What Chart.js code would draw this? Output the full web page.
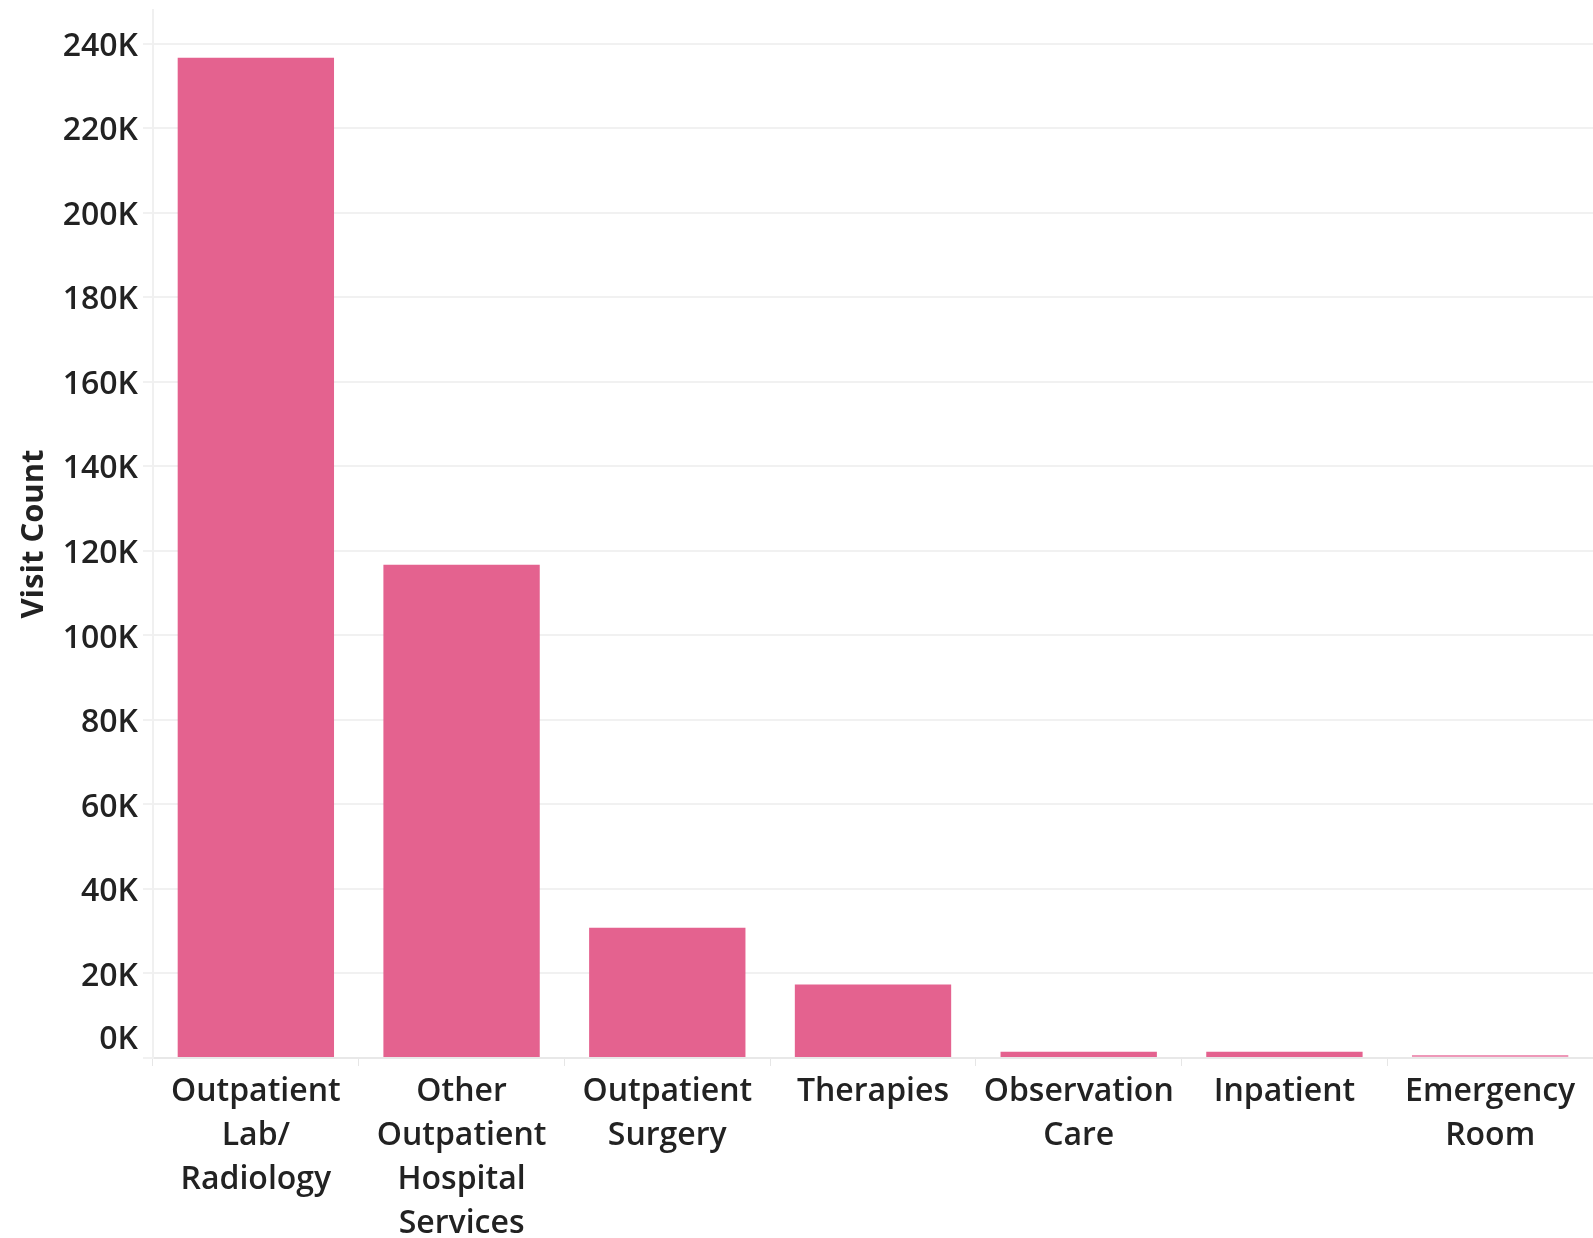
<!DOCTYPE html>
<html>
<head>
<meta charset="utf-8">
<script src="https://cdn.jsdelivr.net/npm/chart.js@4.4.1/dist/chart.umd.min.js"></script>
<style>
    html, body { margin: 0; padding: 0; background: #fff; }
    #wrap { width: 1593px; height: 1238px; position: relative; }
</style>
</head>
<body>
<div id="wrap"><canvas id="visitChart"></canvas></div>
<script>
// Data
const categories = [
    ['Outpatient', 'Lab/', 'Radiology'],
    ['Other', 'Outpatient', 'Hospital', 'Services'],
    ['Outpatient', 'Surgery'],
    ['Therapies'],
    ['Observation', 'Care'],
    ['Inpatient'],
    ['Emergency', 'Room']
];
const visitCounts = [236700, 116700, 30800, 17400, 1500, 1500, 700];
const yTicks = [0, 20000, 40000, 60000, 80000, 100000, 120000, 140000, 160000, 180000, 200000, 220000, 240000];

const barColor = '#e4628f';
const lightBar = '#ee98b8';
const fontFamily = '"Open Sans", "DejaVu Sans", sans-serif';

// Tableau puts the 0K label just above the baseline
const zeroLabelPlugin = {
    id: 'zeroLabel',
    afterDraw(chart) {
        const y = chart.scales.y;
        const ctx = chart.ctx;
        ctx.save();
        ctx.font = '600 32px ' + fontFamily;
        ctx.fillStyle = '#222';
        ctx.textAlign = 'right';
        ctx.textBaseline = 'middle';
        ctx.fillText('0K', y.right - 15, y.getPixelForValue(0) - 18);
        ctx.restore();
    }
};

function initializeChart() {
    const ctx = document.getElementById('visitChart').getContext('2d');
    new Chart(ctx, {
        type: 'bar',
        data: {
            labels: categories,
            datasets: [{
                data: visitCounts,
                backgroundColor: visitCounts.map((v, i) => i === visitCounts.length - 1 ? lightBar : barColor),
                borderWidth: 0,
                categoryPercentage: 0.76,
                barPercentage: 1.0
            }]
        },
        options: {
            responsive: true,
            maintainAspectRatio: false,
            animation: false,
            layout: { padding: { top: 10, right: 0, bottom: -12, left: 4 } },
            plugins: {
                legend: { display: false },
                tooltip: { enabled: false }
            },
            scales: {
                x: {
                    grid: {
                        display: true,
                        drawOnChartArea: false,
                        color: '#e6e6e6',
                        tickLength: 8
                    },
                    border: { color: '#e8e8e8', width: 2 },
                    ticks: {
                        color: '#222',
                        padding: 4,
                        maxRotation: 0,
                        autoSkip: false,
                        font: { family: fontFamily, size: 32, weight: '600', lineHeight: 1.375 }
                    }
                },
                y: {
                    min: 0,
                    max: 248000,
                    afterBuildTicks: (scale) => {
                        scale.ticks = yTicks.map(v => ({ value: v }));
                    },
                    afterFit: (scale) => {
                        scale.width = 149;
                        scale.paddingTop = 0;
                        scale.paddingBottom = 0;
                    },
                    grid: {
                        color: '#f1f1f1',
                        lineWidth: 2,
                        tickLength: 10
                    },
                    border: { color: '#f0f0f0', width: 2 },
                    ticks: {
                        color: '#222',
                        padding: 5,
                        labelOffset: 3,
                        font: { family: fontFamily, size: 32, weight: '600' },
                        callback: (v) => v === 0 ? '' : (v / 1000) + 'K'
                    },
                    title: {
                        display: true,
                        text: 'Visit Count',
                        color: '#222',
                        padding: { top: 12, bottom: 10 },
                        font: { family: fontFamily, size: 31, weight: 'bold' }
                    }
                }
            }
        },
        plugins: [zeroLabelPlugin]
    });
}

document.addEventListener('DOMContentLoaded', () => {
    initializeChart();
});
</script>
</body>
</html>
